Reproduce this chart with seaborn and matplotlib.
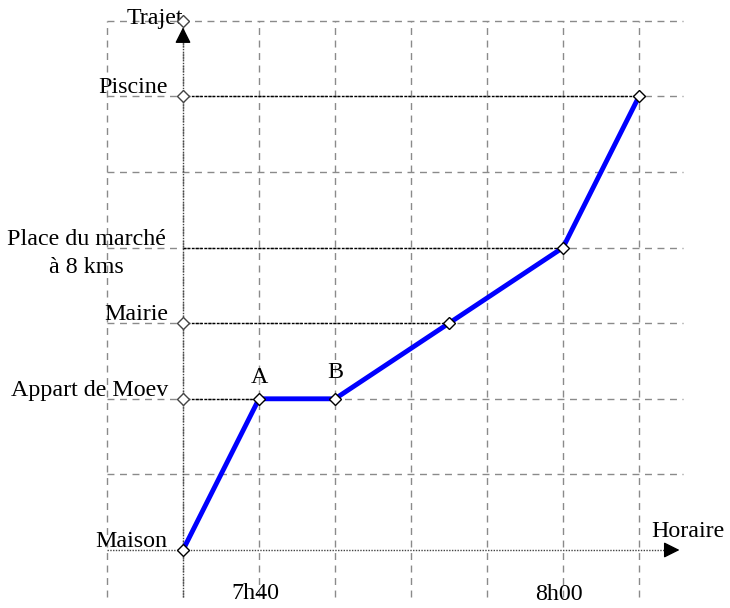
import numpy as np
import pandas as pd
import seaborn as sns
import matplotlib.pyplot as plt

# Data: time steps (grid units) and distance levels
heure = [0, 1, 2, 3.5, 5, 6]
trajet = [0, 2, 2, 3, 4, 6]
points = ['Maison', 'A', 'B', 'Mairie', 'Place du marché', 'Piscine']

# y-axis labels and their levels
lieux = ['Maison', 'Appart de Moev', 'Mairie', 'Place du marché\nà 8 kms', 'Piscine']
niveaux = [0, 2, 3, 4, 6]
# diamond markers on the y axis
marques_y = [2, 3, 6, 7]

grid_x = [-1, 0, 1, 2, 3, 4, 5, 6]
grid_y = [1, 2, 3, 4, 5, 6, 7]

df = pd.DataFrame({'heure': heure, 'trajet': trajet, 'point': points})

sns.set_theme(style='white')
plt.rcParams['font.family'] = ['Liberation Serif', 'DejaVu Serif']
plt.rcParams['text.color'] = 'black'

fig = plt.figure(figsize=(7.3, 6.08), dpi=100)
ax = fig.add_axes([0, 0, 1, 1])
ax.set_xlim(-183 / 76, (730 - 183) / 76)
ax.set_ylim(-58 / 75.6, 550 / 75.6)
ax.axis('off')

# Dashed grid
dash = (0, (5, 4))
ax.vlines(grid_x, -0.62, 7, colors='#8a8a8a', linestyles=dash, lw=1, zorder=1)
ax.hlines(grid_y, -1, 6.58, colors='#8a8a8a', linestyles=dash, lw=1, zorder=1)

# Axes (dotted) with arrows
ax.plot([0, 0], [-0.62, 6.8], color='#444444', lw=1, ls=(0, (1, 1)), zorder=2)
ax.plot([-1, 6.4], [0, 0], color='#444444', lw=1, ls=(0, (1, 1)), zorder=2)
ax.annotate('', xy=(0, 6.95), xytext=(0, 6.7),
            arrowprops=dict(arrowstyle='-|>', color='black', lw=1,
                            mutation_scale=24), zorder=3)
ax.annotate('', xy=(6.57, 0), xytext=(6.3, 0),
            arrowprops=dict(arrowstyle='-|>', color='black', lw=1,
                            mutation_scale=24), zorder=3)

# Dotted reference lines from y axis to the points
for xv, yv in zip(heure[1:], trajet[1:]):
    if yv == 2 and xv > 1:
        continue
    ax.plot([0, xv], [yv, yv], color='black', lw=1, ls=(0, (2, 1)), zorder=2)

# Journey line
sns.lineplot(data=df, x='heure', y='trajet', sort=False, color='#0000ff',
             linewidth=3.5, ax=ax, zorder=4)
ax.plot(df['heure'], df['trajet'], ls='none', marker='D', markersize=6.5,
        markerfacecolor='white', markeredgecolor='black', markeredgewidth=1,
        zorder=5)
ax.plot([0] * len(marques_y), marques_y, ls='none', marker='D',
        markersize=6.5, markerfacecolor='white', markeredgecolor='#444444',
        markeredgewidth=1, zorder=5)

fs = 17.3
# y labels
for nom, niv in zip(lieux, niveaux):
    if '\n' in nom:
        for i, ligne in enumerate(nom.split('\n')):
            ax.text(-1.27, niv + 0.03 - 0.37 * i, ligne, ha='center',
                    va='baseline', fontsize=fs)
    else:
        ax.text(-0.2, niv + 0.04, nom, ha='right', va='baseline', fontsize=fs)

ax.text(0.0, 6.96, 'Trajet', ha='right', va='baseline', fontsize=fs)
ax.text(6.64, 0.17, 'Horaire', ha='center', va='baseline', fontsize=fs)
ax.text(1.01, 2.21, 'A', ha='center', va='baseline', fontsize=fs)
ax.text(2.0, 2.275, 'B', ha='center', va='baseline', fontsize=fs)
ax.text(0.95, -0.65, '7h40', ha='center', va='baseline', fontsize=fs)
ax.text(4.95, -0.66, '8h00', ha='center', va='baseline', fontsize=fs)

fig.savefig('out.png', dpi=100)
